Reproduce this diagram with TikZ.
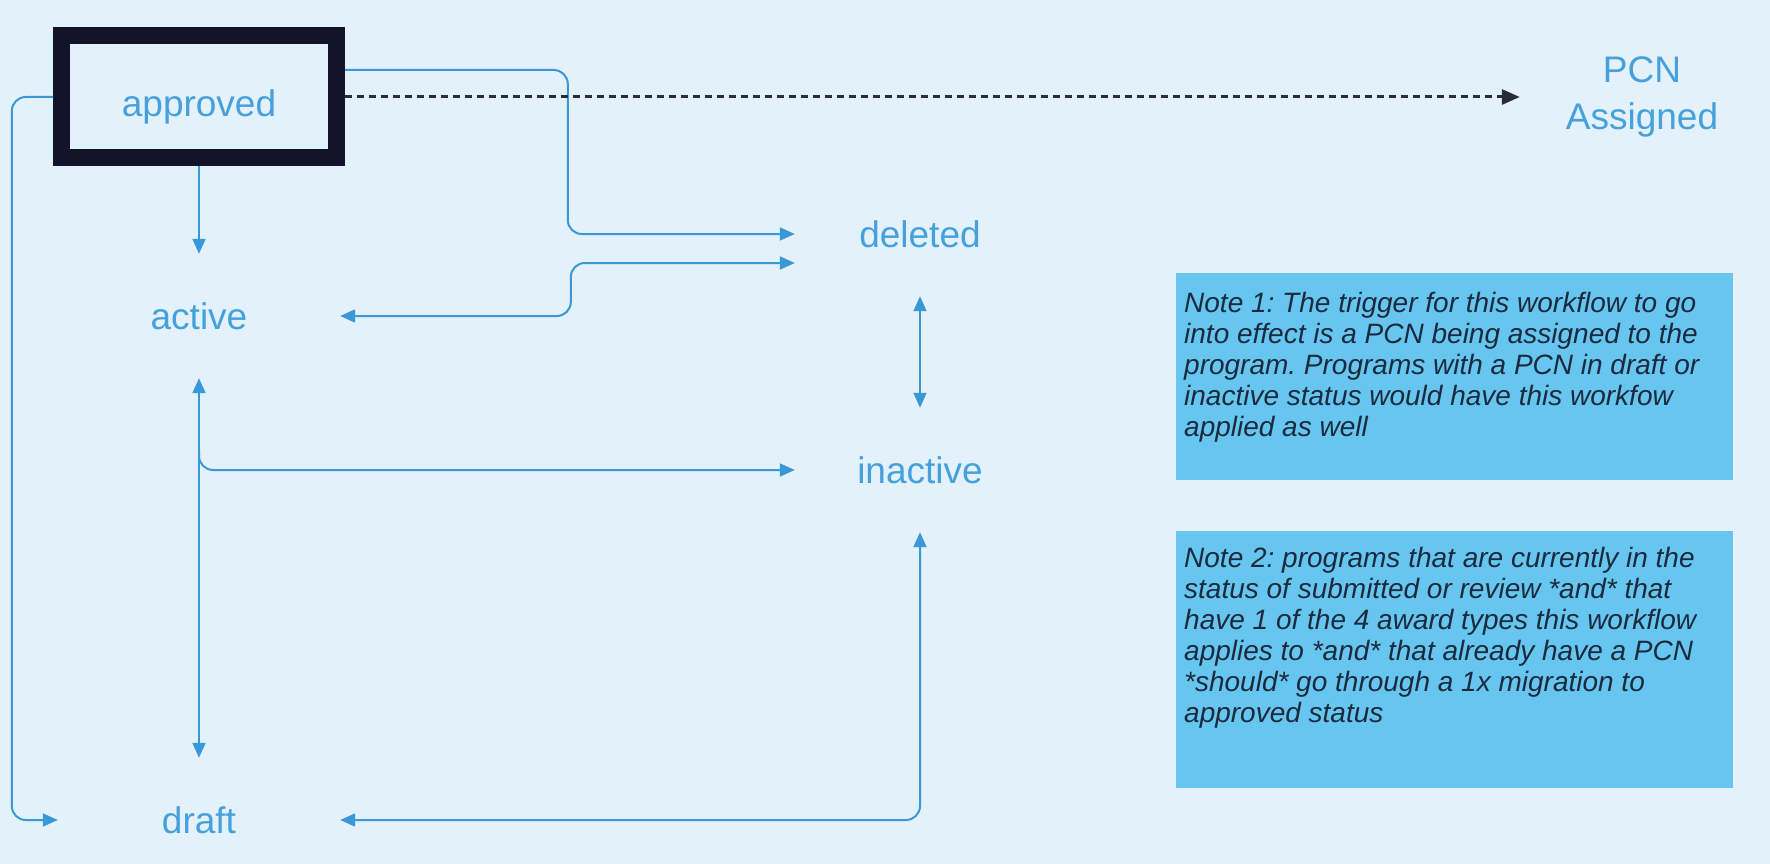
\documentclass[tikz,border=0pt]{standalone}
\usepackage{fontspec}
\setmainfont{Liberation Sans}
\usepackage{xcolor}
\usetikzlibrary{arrows.meta, positioning}

\definecolor{bgblue}{HTML}{E3F1FB}
\definecolor{lineblue}{HTML}{3A97D8}
\definecolor{textblue}{HTML}{45A0DC}
\definecolor{notefill}{HTML}{66C6EF}
\definecolor{notetext}{HTML}{1B2A3E}
\definecolor{framenavy}{HTML}{13132B}
\definecolor{dashgray}{HTML}{2B2B35}

\begin{document}
\begin{tikzpicture}[x=1pt, y=1pt, on grid, >={Triangle[length=15pt, width=13pt]},
    state/.style={rectangle, minimum height=124pt, inner sep=0pt, text=textblue, align=center, font=\fontsize{37}{47}\selectfont},
    link/.style={draw=lineblue, line width=2pt, rounded corners=14pt},
    note/.style={rectangle, fill=notefill, text=notetext, anchor=north west, inner xsep=8pt, inner ysep=0pt, font=\fontsize{28}{31}\selectfont\itshape}]

        \useasboundingbox (0,0) rectangle (1770,-864);
        \fill[bgblue] (0,0) rectangle (1770,-864);

        \node[state, draw=framenavy, line width=17pt, minimum width=275pt, minimum height=122pt, text height=40pt, text depth=0pt] (approved) at (199,-97) {approved};

        \node[state, minimum width=282pt, below=219pt of approved] (active) {active};

        \node[state, minimum width=282pt, below=504pt of active] (draft) {draft};

        \node[state, minimum width=250pt, above right=82pt and 721pt of active] (deleted) {deleted};

        \node[state, minimum width=250pt, below=236pt of deleted] (inactive) {inactive};

        \node[state, minimum width=244pt, minimum height=175pt, right=1443pt of approved] (pcn) {PCN\\Assigned};

        \node[note] (note1) at (1176,-273) {\begin{minipage}[t][207pt][t]{541pt}\raggedright\frenchspacing
                \vspace*{19pt}
                Note 1: The trigger for this workflow to go\\
                into effect is a PCN being assigned to the\\
                program. Programs with a PCN in draft or\\
                inactive status would have this workfow\\
                applied as well
            \end{minipage}};

        \node[note] (note2) at (1176,-531) {\begin{minipage}[t][257pt][t]{541pt}\raggedright\frenchspacing
                \vspace*{16pt}
                Note 2: programs that are currently in the\\
                status of submitted or review *and* that\\
                have 1 of the 4 award types this workflow\\
                applies to *and* that already have a PCN\\{}
                *should* go through a 1x migration to\\
                approved status
            \end{minipage}};

        \draw[->, link] (approved) -- (active);
        \draw[<->, link] (active) -- (draft);
        \draw[<->, link] (deleted) -- (inactive);

        \draw[->, link] ([yshift=27pt]approved.east) -| ([xshift=-227pt]deleted.west) -- (deleted.west);
        \draw[<->, link] (active.east) -| ([xshift=-224pt, yshift=-29pt]deleted.west) -- ([yshift=-29pt]deleted.west);
        \draw[->, link] ([yshift=-72pt]active.south) |- (inactive.west);
        \draw[<->, link] (inactive.south) |- (draft.east);
        \draw[->, link] (approved.west) -| ([xshift=-46pt]draft.west) -- (draft.west);

        \draw[-{Triangle[length=18pt, width=15pt]}, dashgray, line width=3pt, dash pattern=on 7pt off 5pt] (approved.east) -- (pcn.west);

\end{tikzpicture}
\end{document}
